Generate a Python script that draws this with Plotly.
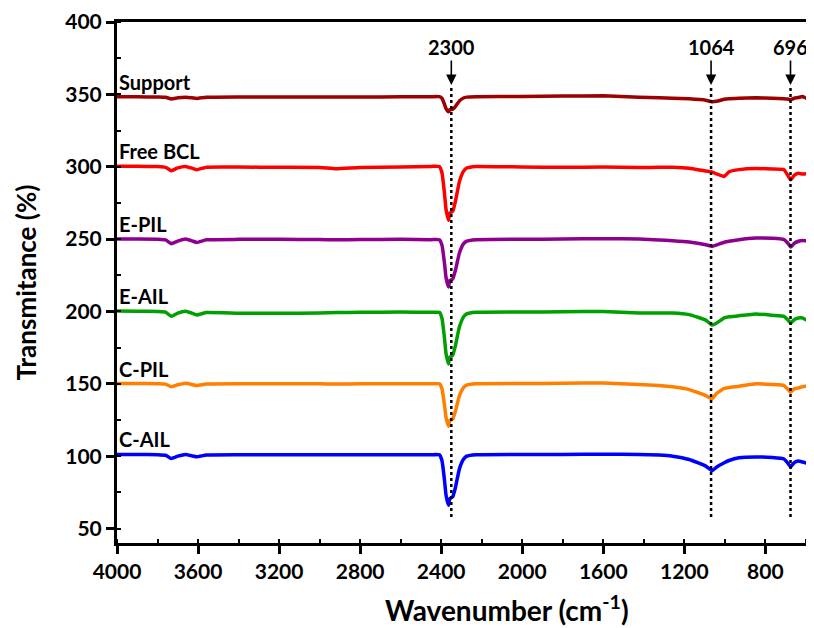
import plotly.graph_objects as go

wavenumber = [4000, 3900, 3800, 3760, 3732, 3700, 3661, 3630, 3606, 3559, 3400, 3200, 3000, 2918, 2800, 2600, 2450,
              2409, 2396, 2384, 2376, 2364, 2358, 2343, 2330, 2310, 2290, 2274, 2228,
              2000, 1800, 1600, 1423, 1324, 1258, 1176, 1094, 1064, 1040, 1003, 979, 930, 847, 765, 708, 691, 675,
              658, 637, 617, 601, 585, 576, 564]

support = [348.3, 348.3, 348.2, 348.0, 346.8, 347.6, 348.0, 347.6, 347.2, 348.0, 348.2, 348.2, 348.2, 348.1, 348.2, 348.3, 348.4,
           348.4, 347.2, 343.3, 340.1, 338.0, 339.4, 339.8, 341.6, 345.5, 347.5, 348.1, 348.4,
           348.6, 348.8, 349.0, 348.0, 347.6, 347.3, 346.9, 345.9, 344.9, 345.2, 346.6, 347.0, 347.3, 347.6, 347.3,
           347.0, 346.8, 346.2, 347.3, 347.8, 348.5, 347.5, 346.8, 345.5, 345.0]

free_bcl = [300.3, 300.3, 300.1, 299.6, 297.2, 299.2, 300.2, 299.0, 297.9, 299.7, 299.8, 299.6, 299.5, 298.6, 299.5, 299.8, 300.2,
            300.2, 295.7, 281.9, 270.4, 262.9, 267.8, 269.2, 276.0, 289.8, 296.8, 299.1, 300.2,
            299.8, 299.6, 299.8, 299.5, 299.6, 299.7, 299.0, 297.0, 296.4, 295.0, 293.3, 296.5, 298.0, 298.8, 298.4,
            297.9, 294.4, 291.0, 294.0, 295.5, 294.9, 295.1, 294.5, 294.0, 293.5]

e_pil = [250.0, 250.0, 249.9, 249.4, 246.8, 248.6, 250.0, 248.8, 247.7, 249.5, 249.8, 249.8, 249.7, 249.5, 249.7, 249.8, 249.6,
         249.6, 245.7, 233.6, 223.4, 216.9, 221.2, 222.5, 228.3, 240.4, 246.7, 248.6, 249.6,
         249.9, 250.0, 250.3, 250.0, 249.4, 248.9, 248.0, 246.1, 245.0, 246.0, 247.8, 248.5, 249.6, 250.7, 250.5,
         249.6, 247.5, 244.5, 247.0, 248.5, 249.1, 248.8, 248.4, 247.5, 246.8]

e_ail = [200.3, 200.2, 200.0, 199.6, 196.6, 198.8, 200.1, 198.8, 197.6, 199.2, 198.8, 198.7, 199.0, 199.2, 199.4, 199.6, 199.4,
         199.4, 195.1, 181.9, 170.8, 163.7, 168.3, 169.8, 176.2, 189.4, 196.2, 198.3, 199.4,
         199.6, 199.8, 200.0, 198.9, 198.9, 198.9, 197.8, 194.0, 190.6, 192.0, 195.6, 196.3, 197.1, 198.3, 197.3,
         196.6, 194.5, 192.1, 194.3, 195.5, 195.5, 194.3, 193.8, 193.0, 192.1]

c_pil = [150.2, 150.2, 150.1, 149.8, 147.9, 149.3, 150.4, 149.5, 148.8, 149.8, 150.0, 150.0, 150.0, 149.9, 150.0, 150.0, 150.0,
         150.0, 146.5, 135.6, 126.6, 120.7, 124.5, 125.7, 131.0, 141.8, 147.4, 149.1, 150.0,
         150.2, 150.4, 150.6, 149.5, 148.8, 147.9, 146.0, 141.9, 139.6, 143.5, 146.8, 147.5, 148.3, 150.0, 149.5,
         148.8, 146.5, 144.2, 146.5, 147.2, 148.0, 148.3, 147.8, 147.2, 147.0]

c_ail = [101.2, 101.2, 101.0, 100.6, 98.4, 100.0, 101.2, 100.2, 99.6, 100.8, 101.0, 101.0, 101.0, 100.9, 101.0, 101.0, 101.0,
         101.0, 96.8, 83.8, 73.0, 66.0, 70.5, 71.9, 78.2, 91.2, 97.8, 100.0, 101.0,
         101.2, 101.2, 101.4, 101.2, 100.8, 100.0, 97.7, 93.1, 90.0, 92.5, 95.4, 97.0, 98.9, 99.5, 99.0,
         98.0, 95.5, 92.7, 95.5, 96.6, 96.0, 95.4, 94.5, 93.5, 93.0]

series_names = ["Support", "Free BCL", "E-PIL", "E-AIL", "C-PIL", "C-AIL"]
series_values = [support, free_bcl, e_pil, e_ail, c_pil, c_ail]
series_colors = ["#9c0000", "#ff0000", "#8e008e", "#00a000", "#ff8000", "#0000ff"]

peak_labels = ["2300", "1064", "696"]
peak_positions = [2350, 1068, 676]

x_ticks = [4000, 3600, 3200, 2800, 2400, 2000, 1600, 1200, 800]
y_ticks = [50, 100, 150, 200, 250, 300, 350, 400]

x_title = "Wavenumber (cm<sup>-1</sup>)"
y_title = "Transmitance (%)"

FONT = "Lato"

fig = go.Figure()
for name, vals, col in zip(series_names, series_values, series_colors):
    fig.add_trace(go.Scatter(x=wavenumber, y=vals, mode="lines", name=name,
                             line=dict(color=col, width=3.5, shape="spline", smoothing=0.35),
                             showlegend=False))
    fig.add_annotation(x=4000, y=vals[0], text=name, showarrow=False,
                       xanchor="left", yanchor="middle", xshift=0, yshift=15,
                       font=dict(family=FONT, size=20, color="black", weight="bold"))

for lab, pos in zip(peak_labels, peak_positions):
    fig.add_shape(type="line", x0=pos, x1=pos, y0=58, y1=355, xref="x", yref="y",
                  line=dict(color="black", width=2.5, dash="dot"))
    fig.add_annotation(x=pos, y=356.5, text=lab, showarrow=True, ax=0, ay=-38,
                       arrowhead=2, arrowsize=1.3, arrowwidth=1.6, arrowcolor="black",
                       font=dict(family=FONT, size=20, color="black", weight="bold"))

# x-axis title sits right of the plot centre in the reference (the original was cropped on the right)
fig.add_annotation(xref="paper", yref="paper", x=0.5595, y=-0.125, text=x_title, showarrow=False,
                   xanchor="center", yanchor="middle",
                   font=dict(family=FONT, size=28, color="black", weight="bold"))

# the page body has an 8px margin: the figure is sized so the plot area lands where the reference has it
fig.update_layout(
    width=806, height=620,
    margin=dict(l=109, r=0, t=14, b=85),
    paper_bgcolor="white", plot_bgcolor="white",
    showlegend=False,
)
fig.update_xaxes(
    range=[4000, 560], tickvals=x_ticks, ticktext=[str(v) for v in x_ticks],
    showline=True, linecolor="black", linewidth=3, mirror=True,
    ticks="outside", ticklen=8, tickwidth=2.5, tickcolor="black",
    minor=dict(ticks="inside", dtick=200, tick0=4000, ticklen=4, tickwidth=2, tickcolor="black"),
    showgrid=False, zeroline=False,
    tickfont=dict(family=FONT, size=21, color="black", weight="bold"),
)
fig.update_yaxes(
    range=[40, 400], tickvals=y_ticks, ticktext=[str(v) for v in y_ticks],
    showline=True, linecolor="black", linewidth=3,
    ticks="outside", ticklen=8, tickwidth=2.5, tickcolor="black",
    minor=dict(ticks="inside", dtick=25, tick0=0, ticklen=4, tickwidth=2, tickcolor="black"),
    showgrid=False, zeroline=False,
    tickfont=dict(family=FONT, size=21, color="black", weight="bold"),
    title=dict(text=y_title, standoff=22,
               font=dict(family=FONT, size=26, color="black", weight="bold")),
)

fig.write_html("out.html")
